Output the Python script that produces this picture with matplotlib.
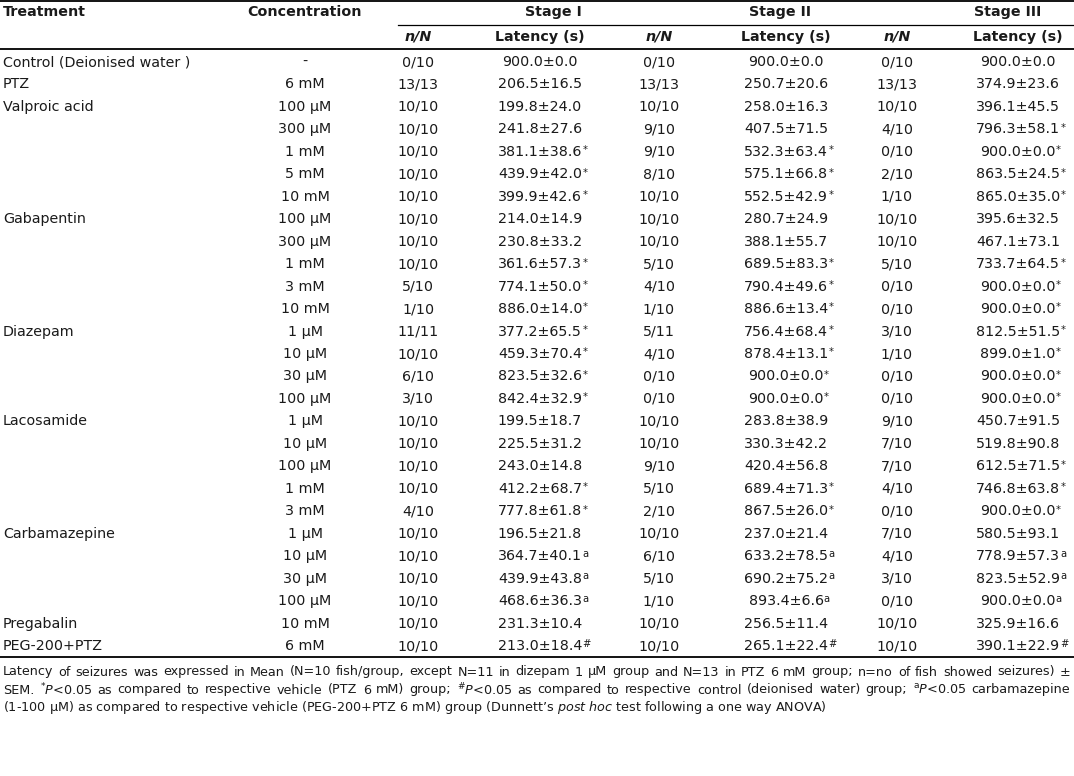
import matplotlib
matplotlib.use('Agg')
from matplotlib import pyplot as plt

plt.rcParams['font.family'] = ['DejaVu Sans']
plt.rcParams['mathtext.fontset'] = 'dejavusans'

# table contents
treatment = ['Control (Deionised water )', 'PTZ', 'Valproic acid', '', '', '', '',
             'Gabapentin', '', '', '', '', 'Diazepam', '', '', '',
             'Lacosamide', '', '', '', '', 'Carbamazepine', '', '', '',
             'Pregabalin', 'PEG-200+PTZ']
concentration = ['-', '6 mM', '100 µM', '300 µM', '1 mM', '5 mM', '10 mM',
                 '100 µM', '300 µM', '1 mM', '3 mM', '10 mM',
                 '1 µM', '10 µM', '30 µM', '100 µM',
                 '1 µM', '10 µM', '100 µM', '1 mM', '3 mM',
                 '1 µM', '10 µM', '30 µM', '100 µM',
                 '10 mM', '6 mM']

nN_1 = ['0/10', '13/13', '10/10', '10/10', '10/10', '10/10', '10/10',
        '10/10', '10/10', '10/10', '5/10', '1/10',
        '11/11', '10/10', '6/10', '3/10',
        '10/10', '10/10', '10/10', '10/10', '4/10',
        '10/10', '10/10', '10/10', '10/10', '10/10', '10/10']
lat_1 = ['900.0±0.0', '206.5±16.5', '199.8±24.0', '241.8±27.6', '381.1±38.6', '439.9±42.0', '399.9±42.6',
         '214.0±14.9', '230.8±33.2', '361.6±57.3', '774.1±50.0', '886.0±14.0',
         '377.2±65.5', '459.3±70.4', '823.5±32.6', '842.4±32.9',
         '199.5±18.7', '225.5±31.2', '243.0±14.8', '412.2±68.7', '777.8±61.8',
         '196.5±21.8', '364.7±40.1', '439.9±43.8', '468.6±36.3', '231.3±10.4', '213.0±18.4']
sig_1 = ['', '', '', '', '*', '*', '*',
         '', '', '*', '*', '*',
         '*', '*', '*', '*',
         '', '', '', '*', '*',
         '', 'a', 'a', 'a', '', '#']

nN_2 = ['0/10', '13/13', '10/10', '9/10', '9/10', '8/10', '10/10',
        '10/10', '10/10', '5/10', '4/10', '1/10',
        '5/11', '4/10', '0/10', '0/10',
        '10/10', '10/10', '9/10', '5/10', '2/10',
        '10/10', '6/10', '5/10', '1/10', '10/10', '10/10']
lat_2 = ['900.0±0.0', '250.7±20.6', '258.0±16.3', '407.5±71.5', '532.3±63.4', '575.1±66.8', '552.5±42.9',
         '280.7±24.9', '388.1±55.7', '689.5±83.3', '790.4±49.6', '886.6±13.4',
         '756.4±68.4', '878.4±13.1', '900.0±0.0', '900.0±0.0',
         '283.8±38.9', '330.3±42.2', '420.4±56.8', '689.4±71.3', '867.5±26.0',
         '237.0±21.4', '633.2±78.5', '690.2±75.2', '893.4±6.6', '256.5±11.4', '265.1±22.4']
sig_2 = ['', '', '', '', '*', '*', '*',
         '', '', '*', '*', '*',
         '*', '*', '*', '*',
         '', '', '', '*', '*',
         '', 'a', 'a', 'a', '', '#']

nN_3 = ['0/10', '13/13', '10/10', '4/10', '0/10', '2/10', '1/10',
        '10/10', '10/10', '5/10', '0/10', '0/10',
        '3/10', '1/10', '0/10', '0/10',
        '9/10', '7/10', '7/10', '4/10', '0/10',
        '7/10', '4/10', '3/10', '0/10', '10/10', '10/10']
lat_3 = ['900.0±0.0', '374.9±23.6', '396.1±45.5', '796.3±58.1', '900.0±0.0', '863.5±24.5', '865.0±35.0',
         '395.6±32.5', '467.1±73.1', '733.7±64.5', '900.0±0.0', '900.0±0.0',
         '812.5±51.5', '899.0±1.0', '900.0±0.0', '900.0±0.0',
         '450.7±91.5', '519.8±90.8', '612.5±71.5', '746.8±63.8', '900.0±0.0',
         '580.5±93.1', '778.9±57.3', '823.5±52.9', '900.0±0.0', '325.9±16.6', '390.1±22.9']
sig_3 = ['', '', '', '*', '*', '*', '*',
         '', '', '*', '*', '*',
         '*', '*', '*', '*',
         '', '', '*', '*', '*',
         '', 'a', 'a', 'a', '', '#']

stages = ['Stage I', 'Stage II', 'Stage III']

footnote = [
    'Latency of seizures was expressed in Mean (N=10 fish/group, except N=11 in dizepam 1 µM group and N=13 in PTZ 6 mM group; n=no of fish showed seizures) ±',
    r'SEM. $^{*}\mathit{P}$<0.05 as compared to respective vehicle (PTZ 6 mM) group; $^{\#}\mathit{P}$<0.05 as compared to respective control (deionised water) group; $^{\mathrm{a}}\mathit{P}$<0.05 carbamazepine',
    r'(1-100 µM) as compared to respective vehicle (PEG-200+PTZ 6 mM) group (Dunnett’s $\mathit{post\ hoc}$ test following a one way ANOVA)',
]

W, H = 1074, 776
fig = plt.figure(figsize=(W / 100, H / 100), dpi=100)
ax = fig.add_axes([0, 0, 1, 1])
ax.set_xlim(0, W)
ax.set_ylim(H, 0)
ax.axis('off')

fs = 10.3
fs_note = 9.2
tc = '#1a1a1a'

# column centres
x_treat = 3
x_conc = 305
x_nn = [418, 659, 897]
x_lat = [540, 786, 1018]
x_stage = [553, 780, 1008]

y_head = 12
y_sub = 37
y0 = 62
dy = (646 - 62) / 26

# rules
ax.plot([0, W], [1, 1], color='black', lw=1.3)
ax.plot([398, W], [25, 25], color='black', lw=0.9)
ax.plot([0, W], [49, 49], color='black', lw=1.3)
ax.plot([0, W], [657, 657], color='black', lw=1.3)

ax.text(x_treat, y_head, 'Treatment', ha='left', va='center', fontsize=fs, fontweight='bold', color=tc)
ax.text(x_conc, y_head, 'Concentration', ha='center', va='center', fontsize=fs, fontweight='bold', color=tc)
for i, s in enumerate(stages):
    ax.text(x_stage[i], y_head, s, ha='center', va='center', fontsize=fs, fontweight='bold', color=tc)
    ax.text(x_nn[i], y_sub, 'n/N', ha='center', va='center', fontsize=fs, fontweight='bold',
            fontstyle='italic', color=tc)
    ax.text(x_lat[i], y_sub, 'Latency (s)', ha='center', va='center', fontsize=fs, fontweight='bold', color=tc)

sigmap = {'': '', '*': r'$^{*}$', '#': r'$^{\#}$', 'a': r'$^{\mathrm{a}}$'}
nns = [nN_1, nN_2, nN_3]
lats = [lat_1, lat_2, lat_3]
sigs = [sig_1, sig_2, sig_3]
fig.canvas.draw()
rend = fig.canvas.get_renderer()
for r in range(len(treatment)):
    y = y0 + r * dy
    ax.text(x_treat, y, treatment[r], ha='left', va='center', fontsize=fs, color=tc)
    ax.text(x_conc, y, concentration[r], ha='center', va='center', fontsize=fs, color=tc)
    for i in range(3):
        ax.text(x_nn[i], y, nns[i][r], ha='center', va='center', fontsize=fs, color=tc)
        t = ax.text(x_lat[i], y, lats[i][r], ha='center', va='center', fontsize=fs, color=tc)
        if sigs[i][r]:
            # superscript placed right after the centred value
            bb = t.get_window_extent(renderer=rend)
            ax.annotate(sigmap[sigs[i][r]], xy=(bb.x1, H - y), xycoords='figure pixels',
                        xytext=(-0.3, 0), textcoords='offset points',
                        ha='left', va='center', fontsize=fs, color=tc)


def justified(line, y, x0, x1):
    # spread words so that the line fills x0..x1
    words = line.split(' ')
    # keep mathtext chunks together
    merged = []
    for w in words:
        if merged and merged[-1].count('$') % 2 == 1:
            merged[-1] += ' ' + w
        else:
            merged.append(w)
    arts = [ax.text(0, y, w, ha='left', va='center', fontsize=fs_note, color=tc) for w in merged]
    widths = [a.get_window_extent(renderer=rend).width for a in arts]
    gap = (x1 - x0 - sum(widths)) / (len(arts) - 1)
    x = x0
    for a, wd in zip(arts, widths):
        a.set_x(x)
        x += wd + gap


justified(footnote[0], 672, 3, 1070)
justified(footnote[1], 690, 3, 1070)
ax.text(3, 708, footnote[2], ha='left', va='center', fontsize=fs_note, color=tc)

fig.savefig('out.png', dpi=100)
